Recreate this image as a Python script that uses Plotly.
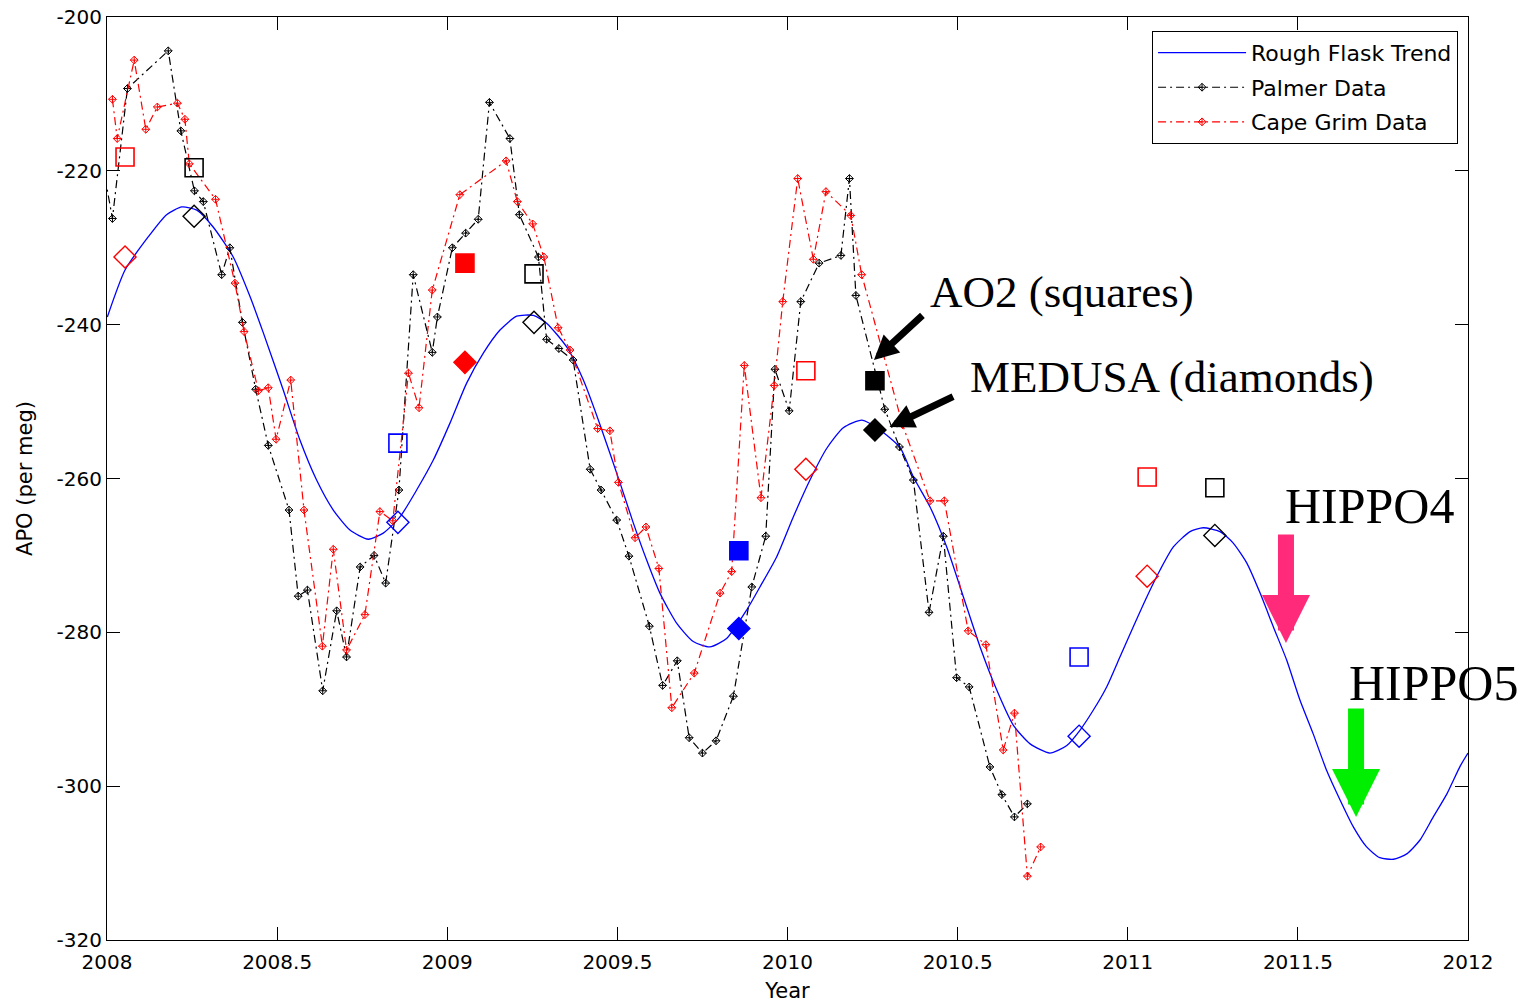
import plotly.graph_objects as go

# ---- Rough flask trend (smooth seasonal curve) ----
trend_year = [2008.001, 2008.053, 2008.121, 2008.175, 2008.220, 2008.264, 2008.312, 2008.371,
              2008.420, 2008.459, 2008.518, 2008.567, 2008.616, 2008.665, 2008.714, 2008.768,
              2008.812, 2008.861, 2008.910, 2008.959, 2009.008, 2009.057, 2009.106, 2009.155,
              2009.204, 2009.253, 2009.292, 2009.351, 2009.400, 2009.449, 2009.508, 2009.547,
              2009.586, 2009.625, 2009.674, 2009.723, 2009.772, 2009.821, 2009.880, 2009.919,
              2009.968, 2010.017, 2010.066, 2010.115, 2010.164, 2010.219, 2010.272, 2010.331,
              2010.370, 2010.419, 2010.468, 2010.517, 2010.566, 2010.615, 2010.664, 2010.713,
              2010.771, 2010.821, 2010.860, 2010.899, 2010.938, 2010.977, 2011.016, 2011.056,
              2011.095, 2011.134, 2011.183, 2011.222, 2011.271, 2011.310, 2011.350, 2011.389,
              2011.428, 2011.467, 2011.506, 2011.545, 2011.584, 2011.624, 2011.663, 2011.702,
              2011.741, 2011.781, 2011.820, 2011.859, 2011.898, 2011.938, 2011.977, 2012.000]
trend_apo = [-239.0, -232.9, -228.6, -225.7, -224.7, -225.1, -227.3, -231.2,
             -236.3, -241.0, -248.5, -255.0, -260.2, -264.1, -266.7, -267.9,
             -267.1, -265.0, -261.5, -257.6, -252.8, -247.6, -243.7, -240.7,
             -238.9, -238.8, -239.8, -242.9, -247.2, -253.0, -260.6, -265.8,
             -270.6, -274.9, -278.8, -281.2, -281.9, -280.8, -277.1, -274.1,
             -270.2, -265.0, -260.2, -256.1, -253.4, -252.4, -253.7, -256.0,
             -259.8, -263.7, -268.9, -275.4, -281.9, -287.5, -292.1, -294.5,
             -295.7, -294.7, -292.7, -290.1, -287.1, -283.2, -279.3, -275.4,
             -271.9, -268.9, -266.9, -266.4, -266.9, -268.4, -271.0, -274.9,
             -279.3, -283.6, -288.8, -293.2, -297.9, -301.8, -305.3, -307.9,
             -309.3, -309.5, -308.8, -307.0, -304.0, -301.0, -297.4, -295.7]

# ---- Palmer station data ----
palmer_year = [2007.985, 2008.016, 2008.060, 2008.180, 2008.217, 2008.257, 2008.283, 2008.337,
               2008.361, 2008.398, 2008.437, 2008.474, 2008.535, 2008.562, 2008.589, 2008.634,
               2008.675, 2008.704, 2008.744, 2008.785, 2008.819, 2008.858, 2008.900, 2008.956,
               2008.971, 2009.015, 2009.054, 2009.091, 2009.124, 2009.184, 2009.212, 2009.268,
               2009.292, 2009.328, 2009.370, 2009.420, 2009.452, 2009.498, 2009.534, 2009.594,
               2009.633, 2009.676, 2009.711, 2009.750, 2009.790, 2009.841, 2009.895, 2009.936,
               2009.963, 2010.005, 2010.039, 2010.093, 2010.157, 2010.182, 2010.201, 2010.286,
               2010.329, 2010.370, 2010.416, 2010.458, 2010.497, 2010.534, 2010.595, 2010.630,
               2010.667, 2010.705]
palmer_apo = [-218.6, -226.2, -209.3, -204.4, -214.8, -222.6, -224.0, -233.5,
              -230.0, -239.7, -248.4, -255.7, -264.1, -275.3, -274.5, -287.6,
              -277.2, -283.2, -271.5, -270.0, -273.6, -261.5, -233.5, -243.6,
              -239.0, -230.0, -228.1, -226.3, -211.1, -215.8, -225.7, -231.2,
              -241.9, -243.1, -244.6, -258.8, -261.5, -265.4, -270.1, -279.2,
              -286.9, -283.7, -293.7, -295.7, -294.1, -288.3, -274.1, -267.5,
              -245.8, -251.2, -237.0, -232.0, -231.0, -221.0, -236.2, -251.0,
              -255.9, -260.2, -277.4, -267.5, -285.9, -287.1, -297.5, -301.1,
              -304.0, -302.3]

# ---- Cape Grim station data ----
capegrim_year = [2008.016, 2008.030, 2008.080, 2008.114, 2008.148, 2008.207, 2008.229, 2008.242,
                 2008.319, 2008.376, 2008.403, 2008.445, 2008.474, 2008.497, 2008.540, 2008.579,
                 2008.633, 2008.665, 2008.704, 2008.758, 2008.802, 2008.840, 2008.886, 2008.917,
                 2008.956, 2009.037, 2009.173, 2009.206, 2009.251, 2009.284, 2009.326, 2009.361,
                 2009.442, 2009.478, 2009.503, 2009.552, 2009.584, 2009.622, 2009.660, 2009.726,
                 2009.802, 2009.836, 2009.873, 2009.922, 2009.961, 2009.986, 2010.030, 2010.076,
                 2010.113, 2010.186, 2010.218, 2010.338, 2010.419, 2010.461, 2010.531, 2010.583,
                 2010.634, 2010.667, 2010.705, 2010.744]
capegrim_apo = [-210.7, -215.8, -205.6, -214.6, -211.7, -211.2, -213.3, -219.1,
                -223.7, -234.6, -240.9, -248.6, -248.2, -254.9, -247.2, -264.1,
                -281.8, -269.2, -282.3, -277.7, -264.3, -265.5, -246.3, -250.8,
                -235.5, -223.1, -218.7, -224.0, -226.9, -231.2, -240.4, -243.3,
                -253.5, -253.8, -260.5, -267.7, -266.3, -271.7, -289.8, -285.3,
                -274.9, -272.1, -245.3, -262.5, -247.9, -237.0, -221.0, -231.5,
                -222.7, -225.8, -233.5, -253.0, -262.9, -262.9, -279.8, -281.6,
                -295.3, -290.5, -311.7, -307.9]

# ---- AO2 (squares) and MEDUSA (diamonds) campaign values ----
campaign_station = ["Cape Grim", "Palmer", "Aircraft",
                    "Cape Grim", "Palmer", "Aircraft",
                    "Cape Grim", "Palmer", "Aircraft",
                    "Cape Grim", "Palmer"]
campaign_year = [2008.053, 2008.256, 2008.855,
                 2009.052, 2009.255, 2009.857,
                 2010.054, 2010.257, 2010.857,
                 2011.057, 2011.256]
campaign_filled = [False, False, False,
                   True, False, True,
                   False, True, False,
                   False, False]
ao2_apo = [-218.2, -219.6, -255.4,
           -232.0, -233.4, -269.4,
           -246.0, -247.3, -283.2,
           -259.8, -261.2]
medusa_apo = [-231.2, -225.9, -265.7,
              -244.9, -239.7, -279.5,
              -258.8, -253.7, -293.5,
              -272.7, -267.4]

# ---- axis ticks ----
year_ticks = [2008, 2008.5, 2009, 2009.5, 2010, 2010.5, 2011, 2011.5, 2012]
year_tick_labels = ["2008", "2008.5", "2009", "2009.5", "2010", "2010.5", "2011", "2011.5", "2012"]
apo_ticks = [-320, -300, -280, -260, -240, -220, -200]
apo_tick_labels = ["-320", "-300", "-280", "-260", "-240", "-220", "-200"]

station_colors = {"Cape Grim": "#FF0000", "Palmer": "#000000", "Aircraft": "#0000FF"}

DASHDOT = "8px,4px,2px,4px"
TICK_FONT = dict(family="DejaVu Sans", size=20, color="#000000")

fig = go.Figure()

fig.add_trace(go.Scatter(
    x=trend_year, y=trend_apo, mode="lines", name="Rough Flask Trend", legendgroup="trend",
    line=dict(color="#0000FF", width=1.3, shape="spline", smoothing=0.6),
))
fig.add_trace(go.Scatter(
    x=palmer_year, y=palmer_apo, mode="lines+markers", name="Palmer Data", legendgroup="palmer",
    line=dict(color="#000000", width=1.2, dash=DASHDOT),
    marker=dict(symbol="diamond-cross-open", size=6, color="#000000",
                line=dict(width=1, color="#000000")),
))
fig.add_trace(go.Scatter(
    x=capegrim_year, y=capegrim_apo, mode="lines+markers", name="Cape Grim Data",
    legendgroup="capegrim",
    line=dict(color="#FF0000", width=1.2, dash=DASHDOT),
    marker=dict(symbol="diamond-cross-open", size=6, color="#FF0000",
                line=dict(width=1, color="#FF0000")),
))

point_colors = [station_colors[s] for s in campaign_station]
square_symbols = ["square" if f else "square-open" for f in campaign_filled]
diamond_symbols = ["diamond" if f else "diamond-open" for f in campaign_filled]

fig.add_trace(go.Scatter(
    x=campaign_year, y=ao2_apo, mode="markers", name="AO2", showlegend=False,
    marker=dict(symbol=square_symbols, size=18, color=point_colors,
                line=dict(width=1.6, color=point_colors)),
))
fig.add_trace(go.Scatter(
    x=campaign_year, y=medusa_apo, mode="markers", name="MEDUSA", showlegend=False,
    marker=dict(symbol=diamond_symbols, size=17, color=point_colors,
                line=dict(width=1.4, color=point_colors)),
))

serif = dict(family="Liberation Serif", color="#000000")
annotations = [
    # instrument labels with pointer arrows
    dict(x=2010.413, y=-235.8, text="AO2 (squares)", showarrow=False,
         xanchor="left", yanchor="middle", font=dict(size=45, **serif)),
    dict(x=2010.530, y=-246.8, text="MEDUSA (diamonds)", showarrow=False,
         xanchor="left", yanchor="middle", font=dict(size=45, **serif)),
    dict(x=2010.254, y=-244.6, text="", showarrow=True, axref="pixel", ayref="pixel",
         ax=50, ay=-46, arrowhead=2, arrowsize=0.7, arrowwidth=7, arrowcolor="#000000"),
    dict(x=2010.300, y=-253.3, text="", showarrow=True, axref="pixel", ayref="pixel",
         ax=65, ay=-31, arrowhead=2, arrowsize=0.7, arrowwidth=7, arrowcolor="#000000"),
    # HIPPO campaign markers
    dict(x=2011.456, y=-263.6, text="HIPPO4", showarrow=False,
         xanchor="left", yanchor="middle", font=dict(size=50, **serif)),
    dict(x=2011.644, y=-286.6, text="HIPPO5", showarrow=False,
         xanchor="left", yanchor="middle", font=dict(size=50, **serif)),
    dict(x=2011.465, y=-281.4, text="", showarrow=True, axref="pixel", ayref="pixel",
         ax=0, ay=-110, arrowhead=2, arrowsize=0.6, arrowwidth=16, arrowcolor="#FF2A7A"),
    dict(x=2011.671, y=-304.0, text="", showarrow=True, axref="pixel", ayref="pixel",
         ax=0, ay=-110, arrowhead=2, arrowsize=0.6, arrowwidth=16, arrowcolor="#00EE00"),
]

fig.update_layout(
    width=1526, height=1005,
    margin=dict(l=107, r=58, t=17, b=65),
    paper_bgcolor="#FFFFFF", plot_bgcolor="#FFFFFF",
    showlegend=True,
    legend=dict(x=0.9927, y=0.985, xanchor="right", yanchor="top",
                bgcolor="#FFFFFF", bordercolor="#000000", borderwidth=1,
                font=dict(family="DejaVu Sans", size=22, color="#000000"),
                itemwidth=88, tracegroupgap=3),
    annotations=annotations,
)
fig.update_xaxes(
    range=[2008, 2012], tickvals=year_ticks, ticktext=year_tick_labels,
    ticks="inside", ticklen=13, tickcolor="#000000", tickwidth=1,
    showline=True, linecolor="#000000", linewidth=1, mirror="ticks",
    showgrid=False, zeroline=False, tickfont=TICK_FONT, automargin=False,
    ticklabelstandoff=4,
    title=dict(text="Year", font=dict(family="DejaVu Sans", size=21, color="#000000"), standoff=10),
)
fig.update_yaxes(
    range=[-320, -200], tickvals=apo_ticks, ticktext=apo_tick_labels,
    ticks="inside", ticklen=13, tickcolor="#000000", tickwidth=1,
    showline=True, linecolor="#000000", linewidth=1, mirror="ticks",
    showgrid=False, zeroline=False, tickfont=TICK_FONT, automargin=False,
    title=dict(text="APO (per meg)", font=dict(family="DejaVu Sans", size=21, color="#000000"), standoff=18),
)

fig.write_html("out.html")
